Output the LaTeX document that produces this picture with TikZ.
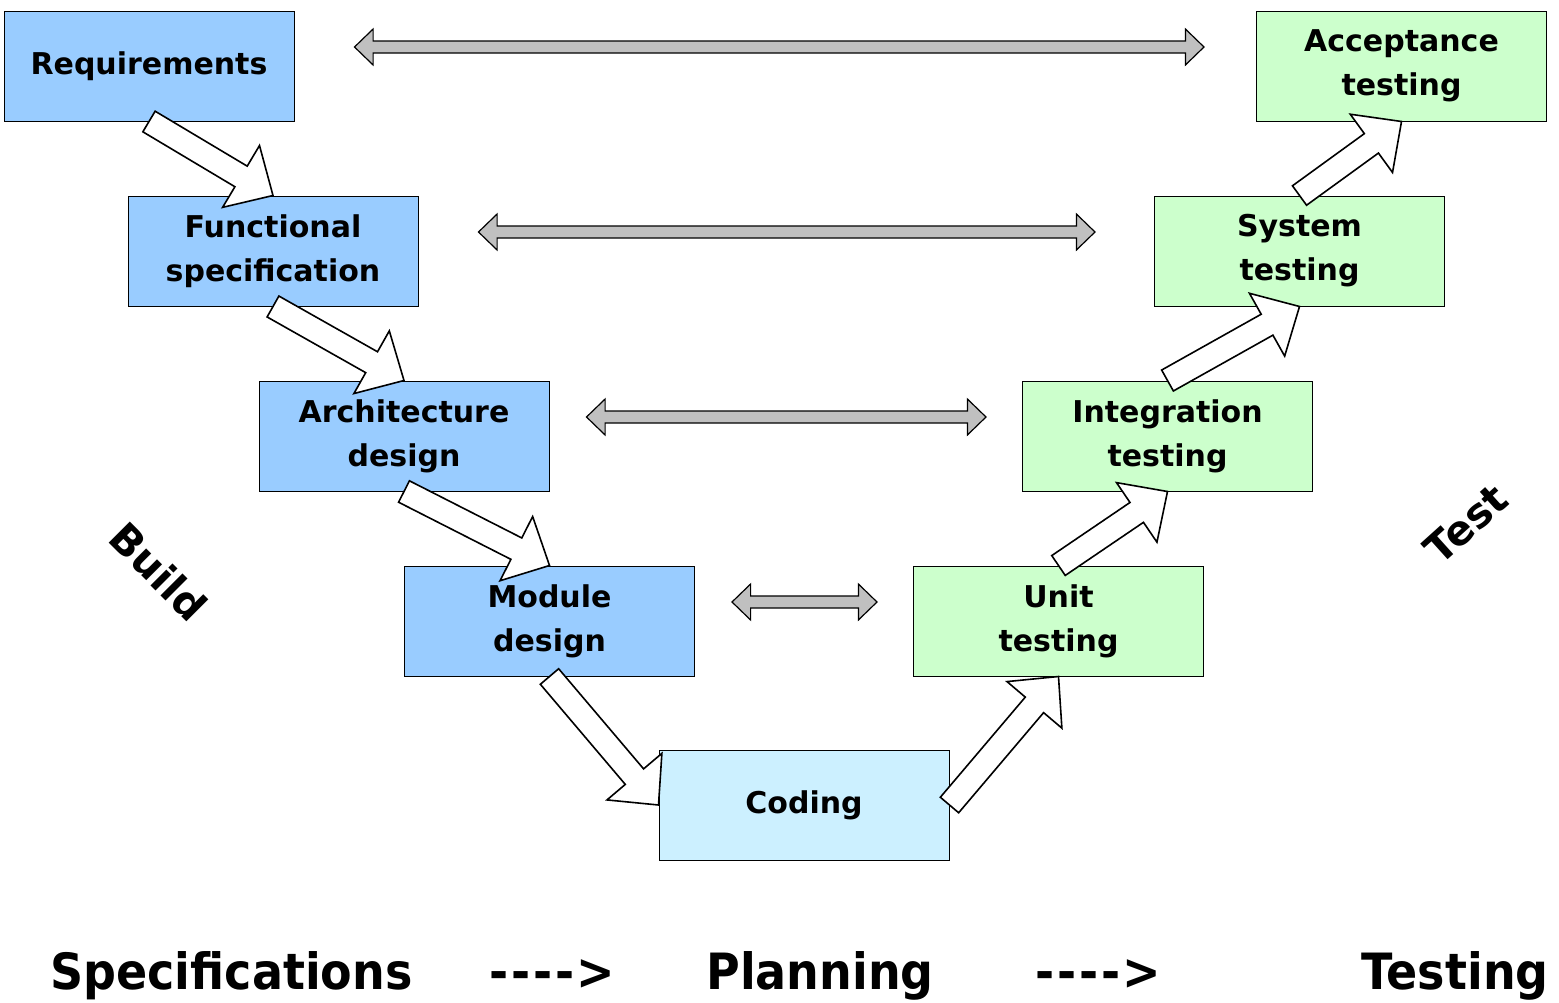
\documentclass[tikz,border=0pt]{standalone}
\usepackage{fontspec}
\setmainfont{DejaVu Sans}
\newfontfamily\condfont[FakeStretch=0.92]{DejaVu Sans}
\usepackage{tikz}
\usetikzlibrary{positioning, calc}

\definecolor{specblue}{HTML}{99CCFF}
\definecolor{codecyan}{HTML}{CCF0FF}
\definecolor{testgreen}{HTML}{CCFFCC}
\definecolor{linkgray}{HTML}{C0C0C0}

\newcommand{\longto}{-\kern1.4pt-\kern1.4pt-\kern1.4pt-\kern1.4pt>}

% single block arrow: #1 style, #2 tail, #3 tip, #4 half shaft width
\newcommand{\blockarrow}[4]{%
  \coordinate (ba-s) at (#2);
  \coordinate (ba-e) at (#3);
  \coordinate (ba-h) at ($(ba-e)!3.1*#4!(ba-s)$);
  \draw[#1] ($(ba-s)!#4!90:(ba-e)$) -- ($(ba-h)!#4!90:(ba-e)$)
    -- ($(ba-h)!3*#4!90:(ba-e)$) -- (ba-e) -- ($(ba-h)!3*#4!-90:(ba-e)$)
    -- ($(ba-h)!#4!-90:(ba-e)$) -- ($(ba-s)!#4!-90:(ba-e)$) -- cycle;
}

% double block arrow: same arguments, heads at both ends
\newcommand{\dblarrow}[4]{%
  \coordinate (da-s) at (#2);
  \coordinate (da-e) at (#3);
  \coordinate (da-hs) at ($(da-s)!3.1*#4!(da-e)$);
  \coordinate (da-he) at ($(da-e)!3.1*#4!(da-s)$);
  \draw[#1] (da-s) -- ($(da-hs)!3*#4!90:(da-e)$) -- ($(da-hs)!#4!90:(da-e)$)
    -- ($(da-he)!#4!90:(da-e)$) -- ($(da-he)!3*#4!90:(da-e)$) -- (da-e)
    -- ($(da-he)!3*#4!-90:(da-e)$) -- ($(da-he)!#4!-90:(da-e)$)
    -- ($(da-hs)!#4!-90:(da-e)$) -- ($(da-hs)!3*#4!-90:(da-e)$) -- cycle;
}

\begin{document}
\begin{tikzpicture}[
    phase/.style={
      draw=black,
      line width=0.5pt,
      minimum width=145pt,
      minimum height=55pt,
      inner sep=0pt,
      align=center,
      font=\fontsize{15}{22}\selectfont\bfseries,
    },
    spec/.style={phase, fill=specblue},
    code/.style={phase, fill=codecyan},
    test/.style={phase, fill=testgreen},
    flow/.style={draw=black, fill=white, line width=0.8pt, line join=miter},
    link/.style={draw=black, fill=linkgray, line width=0.6pt, line join=miter},
    side/.style={font=\fontsize{20.5}{24}\selectfont\bfseries},
    stage/.style={
      font=\condfont\bfseries\fontsize{25}{30}\selectfont,
      anchor=base west,
      inner sep=0pt,
    },
  ]
  \useasboundingbox (0,0) rectangle (779.5pt,-501pt);

  % --- Left branch: specification ---
  \node[spec] (Req) at (74.5pt,-33pt) {Requirements};
  \node[spec, below=37pt of Req, xshift=62pt] (Fun) {Functional\\specification};
  \node[spec, below=37pt of Fun, xshift=65.5pt] (Arc) {Architecture\\design};
  \node[spec, below=37pt of Arc, xshift=72.75pt] (Mod) {Module\\design};

  % --- Bottom: coding ---
  \node[code, below=36.5pt of Mod, xshift=127.25pt] (Cod) {Coding};

  % --- Right branch: testing ---
  \node[test, right=109pt of Mod] (Unit) {Unit\\testing};
  \node[test, above=37pt of Unit, xshift=54.5pt] (Int) {Integration\\testing};
  \node[test, above=37pt of Int, xshift=66pt] (Sys) {System\\testing};
  \node[test, above=37pt of Sys, xshift=51pt] (Acc) {Acceptance\\testing};

  % --- Flow arrows down the V and up again ---
  \foreach \a/\b in {Req.south/Fun.north, Fun.south/Arc.north,
      Arc.south/Mod.north, Mod.south/Cod.west, Cod.east/Unit.south,
      Unit.north/Int.south, Int.north/Sys.south, Sys.north/Acc.south}
    \blockarrow{flow}{\a}{\b}{6pt};

  % --- Gray links between matching levels ---
  \foreach \a/\b/\s/\t in {Req/Acc/30/26, Fun/Sys/30/29.5,
      Arc/Int/18.5/18, Mod/Unit/18.5/18}
    \dblarrow{link}{[xshift=\s pt, yshift=9.5pt]\a.east}{[xshift=-\t pt, yshift=9.5pt]\b.west}{3pt};

  % --- Side labels ---
  \node[side, rotate=-45] (build) at (79.25pt,-285.75pt) {Build};
  \node[side, rotate=42] (testlbl) at (733pt,-262pt) {Test};

  % --- Bottom line ---
  \node[stage] (s1) at (25pt,-494.5pt) {Specifications};
  \node[stage] (s2) at (244.5pt,-494.5pt) {\longto};
  \node[stage] (s3) at (353pt,-494.5pt) {Planning};
  \node[stage] (s4) at (517.5pt,-494.5pt) {\longto};
  \node[stage] (s5) at (680.5pt,-494.5pt) {Testing};

\end{tikzpicture}
\end{document}
